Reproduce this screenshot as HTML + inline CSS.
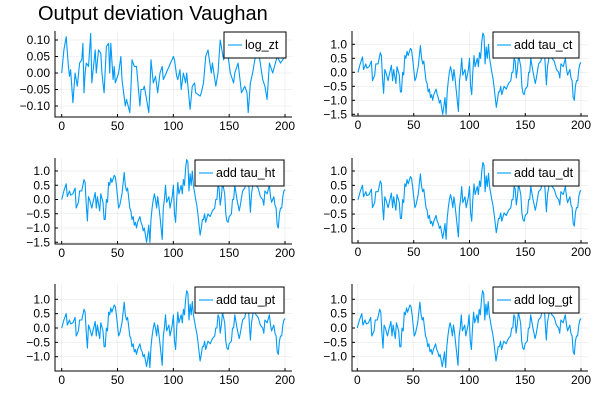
<!DOCTYPE html>
<html><head><meta charset="utf-8"><style>
body{margin:0;background:#fff;}
svg{display:block;font-family:"Liberation Sans",sans-serif;}
</style></head><body>
<svg id="chart" width="600" height="400">
<rect width="600" height="400" fill="#fff"/>
<text x="38" y="20" font-size="20" fill="#000">Output deviation Vaughan</text>
</svg>
<script>
const tickX = [0, 50, 100, 150, 200];
const tZ = [0,2,4,6,7,8,10,12,14,16,18,19,20,21,22,24,26,27,30,31,33,35,36,38,40,42,43,44,46,47,48,51,53,54,57,58,61,62,63,65,67,70,71,73,74,78,79,80,82,84,86,88,90,91,100,101,103,104,106,107,109,111,112,115,117,119,120,124,125,127,129,131,134,135,138,140,142,145,148,151,154,155,158,161,164,166,167,169,171,174,177,180,182,184,186,189,193,196,200];
const vZ = [0,0.07,0.11,0.02,-0.01,0.01,-0.09,0.0,-0.04,0.03,0.04,0.09,-0.06,0.0,0.03,0.02,0.12,-0.03,0.07,0.0,0.07,0.06,0.0,-0.06,0.08,0.09,0.0,0.09,-0.02,0.02,-0.03,0.0,0.05,-0.02,-0.1,-0.08,-0.12,-0.05,0.04,0.02,0.02,-0.1,-0.05,-0.05,-0.04,-0.12,-0.05,0.04,-0.03,-0.01,-0.06,0.0,0.02,-0.02,0.05,0.04,-0.01,-0.02,0.01,-0.05,0.0,-0.03,0.0,-0.11,-0.04,-0.03,-0.06,-0.07,-0.06,-0.03,0.05,0.07,0.0,0.03,-0.04,0.0,0.1,0.04,0.08,0.0,-0.03,0.0,0.03,-0.06,-0.04,-0.06,-0.12,-0.03,0.0,0.06,0.05,-0.02,-0.04,-0.08,0.03,0.0,0.05,0.03,0.05];
const tTau = [0,2,4,5,7,8,10,12,13,15,16,18,20,21,22,23,24,25,27,28,30,31,32,34,35,37,38,39,40,41,42,43,44,45,47,48,49,51,52,54,56,57,58,59,61,62,63,64,65,66,67,68,70,71,72,73,74,76,77,78,79,80,81,82,83,84,85,86,87,88,90,91,92,93,94,96,97,99,100,101,102,103,104,105,107,108,109,110,111,112,113,114,115,116,117,118,120,121,122,124,125,126,127,128,129,131,133,135,137,138,139,140,141,142,143,144,146,147,148,149,150,152,153,154,155,157,159,160,162,164,165,167,168,169,170,172,174,176,178,180,181,182,184,186,187,188,189,190,191,192,193,194,195,196,197,198,199,200];
const vCt = [0,0.3,0.55,0.1,0.3,0.15,0.2,0.4,-0.3,-0.1,0.3,0.3,0.7,0.6,-0.2,-0.75,0.1,0.0,-0.3,-0.1,0.25,-0.3,0.1,-0.4,0.2,-0.1,-0.7,-0.7,0.0,-0.1,0.6,0.5,0.75,0.6,0.85,0.8,0.5,-0.3,-0.2,0.2,0.95,0.5,0.3,0.4,-0.3,-0.4,-0.7,-0.6,-0.9,-0.8,-1.0,-0.8,-0.6,-0.8,-0.9,-1.1,-1.0,-1.5,-1.2,-0.9,-1.5,-0.7,-0.3,0.0,0.2,0.0,-0.3,0.1,-0.2,-0.6,-1.4,-0.3,0.0,0.5,-0.1,0.1,-0.3,0.1,0.5,-0.5,-0.8,0.0,0.6,0.2,0.5,0.2,0.7,0.5,1.1,1.4,1.3,0.3,0.9,0.5,1.0,0.5,0.0,-0.2,-0.5,-1.25,-1.0,-0.7,-0.7,-0.5,-0.8,-0.5,-0.6,-0.4,-0.3,0.0,0.0,0.5,0.4,-0.2,0.1,0.6,0.2,-0.5,-0.75,-0.8,-0.6,-0.5,0.0,0.0,0.5,0.0,-0.4,-0.2,0.3,0.4,0.6,0.9,0.2,-0.45,0.2,0.7,0.5,0.4,0.1,0.0,-0.2,0.3,0.2,0.5,0.1,-0.1,0.0,0.1,-0.2,-0.3,-0.9,-1.0,-0.5,-0.3,-0.3,0.1,0.3,0.35];
const vHt = [0,0.3,0.55,0.1,0.3,0.15,0.2,0.4,-0.3,-0.1,0.3,0.3,0.7,0.6,-0.2,-0.75,0.1,0.0,-0.3,-0.1,0.25,-0.3,0.1,-0.4,0.2,-0.1,-0.7,-0.7,0.0,-0.1,0.6,0.5,0.75,0.6,0.85,0.8,0.5,-0.3,-0.2,0.2,0.95,0.5,0.3,0.4,-0.3,-0.4,-0.7,-0.6,-0.9,-0.8,-1.0,-0.8,-0.6,-0.8,-0.9,-1.1,-1.0,-1.5,-1.2,-0.9,-1.5,-0.7,-0.3,0.0,0.2,0.0,-0.3,0.1,-0.2,-0.6,-1.4,-0.3,0.0,0.5,-0.1,0.1,-0.3,0.1,0.5,-0.5,-0.8,0.0,0.6,0.2,0.5,0.2,0.7,0.5,1.1,1.4,1.3,0.3,0.9,0.5,1.0,0.5,0.0,-0.2,-0.5,-1.25,-1.0,-0.7,-0.7,-0.5,-0.8,-0.5,-0.6,-0.4,-0.3,0.0,0.0,0.5,0.4,-0.2,0.1,0.6,0.2,-0.5,-0.75,-0.8,-0.6,-0.5,0.0,0.0,0.5,0.0,-0.4,-0.2,0.3,0.4,0.6,0.9,0.2,-0.45,0.2,0.7,0.5,0.4,0.1,0.0,-0.2,0.3,0.2,0.5,0.1,-0.1,0.0,0.1,-0.2,-0.3,-0.9,-1.0,-0.5,-0.3,-0.3,0.1,0.3,0.35];
const vDt = [0,0.28,0.5,0.1,0.28,0.14,0.18,0.37,-0.28,-0.1,0.28,0.28,0.65,0.55,-0.18,-0.7,0.1,0.0,-0.28,-0.1,0.23,-0.28,0.1,-0.37,0.18,-0.1,-0.65,-0.65,0.0,-0.1,0.55,0.46,0.7,0.55,0.8,0.75,0.46,-0.28,-0.18,0.18,0.9,0.46,0.28,0.37,-0.28,-0.37,-0.65,-0.55,-0.83,-0.75,-0.92,-0.75,-0.55,-0.75,-0.83,-1.0,-0.92,-1.35,-1.1,-0.83,-1.38,-0.65,-0.28,0.0,0.18,0.0,-0.28,0.1,-0.18,-0.55,-1.3,-0.28,0.0,0.46,-0.1,0.1,-0.28,0.1,0.46,-0.46,-0.75,0.0,0.55,0.18,0.46,0.18,0.65,0.46,1.0,1.3,1.2,0.28,0.83,0.46,0.92,0.46,0.0,-0.18,-0.46,-1.15,-0.92,-0.65,-0.65,-0.46,-0.75,-0.46,-0.55,-0.37,-0.28,0.0,0.0,0.46,0.37,-0.18,0.1,0.55,0.18,-0.46,-0.7,-0.75,-0.55,-0.46,0.0,0.0,0.46,0.0,-0.37,-0.18,0.28,0.37,0.55,0.83,0.18,-0.42,0.18,0.65,0.46,0.37,0.1,0.0,-0.18,0.28,0.18,0.46,0.1,-0.1,0.0,0.1,-0.18,-0.28,-0.83,-0.92,-0.46,-0.28,-0.28,0.1,0.28,0.33];
const vPt = [0,0.28,0.5,0.1,0.28,0.14,0.18,0.37,-0.28,-0.1,0.28,0.28,0.65,0.55,-0.18,-0.7,0.1,0.0,-0.28,-0.1,0.23,-0.28,0.1,-0.37,0.18,-0.1,-0.65,-0.65,0.0,-0.1,0.55,0.46,0.7,0.55,0.8,0.75,0.46,-0.28,-0.18,0.18,0.9,0.46,0.28,0.37,-0.28,-0.37,-0.65,-0.55,-0.83,-0.75,-0.92,-0.75,-0.55,-0.75,-0.83,-1.0,-0.92,-1.35,-1.1,-0.83,-1.38,-0.65,-0.28,0.0,0.18,0.0,-0.28,0.1,-0.18,-0.55,-1.3,-0.28,0.0,0.46,-0.1,0.1,-0.28,0.1,0.46,-0.46,-0.75,0.0,0.55,0.18,0.46,0.18,0.65,0.46,1.0,1.3,1.2,0.28,0.83,0.46,0.92,0.46,0.0,-0.18,-0.46,-1.15,-0.92,-0.65,-0.65,-0.46,-0.75,-0.46,-0.55,-0.37,-0.28,0.0,0.0,0.46,0.37,-0.18,0.1,0.55,0.18,-0.46,-0.7,-0.75,-0.55,-0.46,0.0,0.0,0.46,0.0,-0.37,-0.18,0.28,0.37,0.55,0.83,0.18,-0.42,0.18,0.65,0.46,0.37,0.1,0.0,-0.18,0.28,0.18,0.46,0.1,-0.1,0.0,0.1,-0.18,-0.28,-0.83,-0.92,-0.46,-0.28,-0.28,0.1,0.28,0.33];
const vGt = [0,0.28,0.5,0.1,0.28,0.14,0.18,0.37,-0.28,-0.1,0.28,0.28,0.65,0.55,-0.18,-0.7,0.1,0.0,-0.28,-0.1,0.23,-0.28,0.1,-0.37,0.18,-0.1,-0.65,-0.65,0.0,-0.1,0.55,0.46,0.7,0.55,0.8,0.75,0.46,-0.28,-0.18,0.18,0.9,0.46,0.28,0.37,-0.28,-0.37,-0.65,-0.55,-0.83,-0.75,-0.92,-0.75,-0.55,-0.75,-0.83,-1.0,-0.92,-1.35,-1.1,-0.83,-1.38,-0.65,-0.28,0.0,0.18,0.0,-0.28,0.1,-0.18,-0.55,-1.3,-0.28,0.0,0.46,-0.1,0.1,-0.28,0.1,0.46,-0.46,-0.75,0.0,0.55,0.18,0.46,0.18,0.65,0.46,1.0,1.3,1.2,0.28,0.83,0.46,0.92,0.46,0.0,-0.18,-0.46,-1.15,-0.92,-0.65,-0.65,-0.46,-0.75,-0.46,-0.55,-0.37,-0.28,0.0,0.0,0.46,0.37,-0.18,0.1,0.55,0.18,-0.46,-0.7,-0.75,-0.55,-0.46,0.0,0.0,0.46,0.0,-0.37,-0.18,0.28,0.37,0.55,0.83,0.18,-0.42,0.18,0.65,0.46,0.37,0.1,0.0,-0.18,0.28,0.18,0.46,0.1,-0.1,0.0,0.1,-0.18,-0.28,-0.83,-0.92,-0.46,-0.28,-0.28,0.1,0.28,0.33];
const ticksZ = [-0.10, -0.05, 0.00, 0.05, 0.10];
const ticksA = [-1.5, -1.0, -0.5, 0.0, 0.5, 1.0];
const ticksB = [-1.0, -0.5, 0.0, 0.5, 1.0];
const labels = ["log_zt","add tau_ct","add tau_ht","add tau_dt","add tau_pt","add log_gt"];

const NS = "http://www.w3.org/2000/svg";
const svg = document.getElementById("chart");
function mk(tag, attrs, parent) {
  const e = document.createElementNS(NS, tag);
  for (const k in attrs) e.setAttribute(k, attrs[k]);
  (parent || svg).appendChild(e);
  return e;
}
const panels = [
  {L:55,R:292,T:31,B:117,x0:61.7,x1:285,y0:73,ppu:330,t:tZ,v:vZ,ticks:ticksZ,dec:2,lx:224,ly:32,w:62},
  {L:352,R:588,T:31,B:116,x0:358,x1:581,y0:72.3,ppu:28,t:tTau,v:vCt,ticks:ticksA,dec:1,lx:493,ly:32,w:86},
  {L:55,R:292,T:158,B:244,x0:61.7,x1:285,y0:199.5,ppu:28.5,t:tTau,v:vHt,ticks:ticksA,dec:1,lx:195,ly:160,w:89},
  {L:352,R:588,T:158,B:243,x0:358,x1:581,y0:199.7,ppu:28.7,t:tTau,v:vDt,ticks:ticksB,dec:1,lx:493,ly:160,w:86},
  {L:55,R:292,T:284,B:371,x0:61.7,x1:285,y0:328,ppu:28.7,t:tTau,v:vPt,ticks:ticksB,dec:1,lx:195,ly:287,w:89},
  {L:352,R:588,T:284,B:371,x0:357.3,x1:581,y0:328,ppu:28.7,t:tTau,v:vGt,ticks:ticksB,dec:1,lx:493,ly:287,w:86}
];
panels.forEach((p, i) => {
  const g = mk("g", {});
  
  
  const sx = t => p.x0 + (p.x1 - p.x0) * t / 200;
  const sy = v => p.y0 - v * p.ppu;
  tickX.forEach(t => {
    const ln = mk("line", {x1: sx(t), x2: sx(t), y1: p.T, y2: p.B, stroke: "#000", "stroke-opacity": 0.1, "stroke-width": 0.5}, g);
    
    
    const tk = mk("line", {x1: sx(t), x2: sx(t), y1: p.B, y2: p.B - 3, stroke: "#000", "stroke-width": 1}, g);
    
    
    const tx = mk("text", {x: sx(t), y: p.B + 13, "text-anchor": "middle", "font-size": 12, fill: "#000"}, g);
    tx.textContent = t;
    
    
  });
  p.ticks.forEach(v => {
    const ln = mk("line", {x1: p.L, x2: p.R, y1: sy(v), y2: sy(v), stroke: "#000", "stroke-opacity": 0.1, "stroke-width": 0.5}, g);
    
    
    const tk = mk("line", {x1: p.L, x2: p.L + 3, y1: sy(v), y2: sy(v), stroke: "#000", "stroke-width": 1}, g);
    
    
    const tx = mk("text", {x: p.L - 5, y: sy(v) + 4, "text-anchor": "end", "font-size": 12, fill: "#000"}, g);
    tx.textContent = (v < 0 ? "\u2212" : "") + Math.abs(v).toFixed(p.dec);
    
    
  });
  const ax = mk("path", {d: `M${p.L},${p.T}V${p.B}H${p.R}`, fill: "none", stroke: "#000", "stroke-width": 1}, g);
  
  
  const d = p.t.map((t, k) => (k ? "L" : "M") + sx(t).toFixed(1) + "," + sy(p.v[k]).toFixed(1)).join("");
  const line = mk("path", {d: d, fill: "none", stroke: "#009af9", "stroke-width": 1.1, "stroke-linejoin": "round"}, g);
  
  
  const lg = mk("g", {}, g);
  
  
  mk("rect", {x: p.lx, y: p.ly, width: p.w, height: 26, fill: "#fff", stroke: "#000", "stroke-width": 1}, lg);
  mk("line", {x1: p.lx + 4, x2: p.lx + 18, y1: p.ly + 13, y2: p.ly + 13, stroke: "#009af9", "stroke-width": 1.1}, lg);
  const lt = mk("text", {x: p.lx + 21, y: p.ly + 17, "font-size": 12.5, fill: "#000"}, lg);
  lt.textContent = labels[i];
  
  
});
</script>
</body></html>
